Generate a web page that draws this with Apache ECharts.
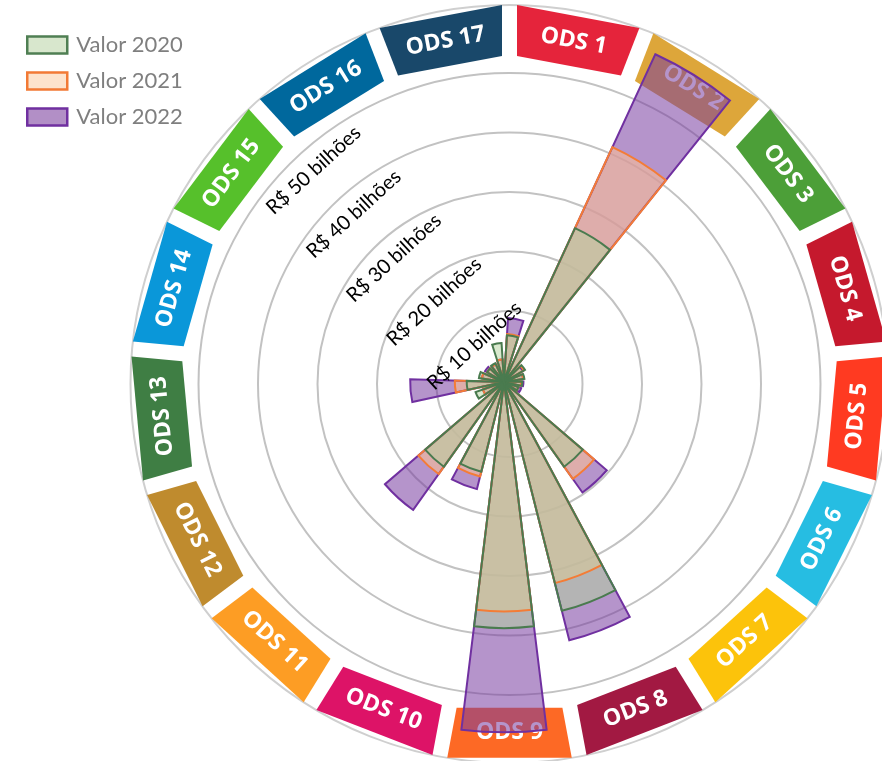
<!DOCTYPE html>
<html><head><meta charset="utf-8">
<script src="https://cdn.jsdelivr.net/npm/echarts@6/dist/echarts.min.js"></script>
<style>html,body{margin:0;padding:0;background:#fff}#c{width:882px;height:761px}</style>
</head><body><div id="c"></div>
<script>
// ---- data ----
const categories = ['ODS 1','ODS 2','ODS 3','ODS 4','ODS 5','ODS 6','ODS 7','ODS 8','ODS 9','ODS 10','ODS 11','ODS 12','ODS 13','ODS 14','ODS 15','ODS 16','ODS 17'];
const valor2020 = [5.6, 26.2, 1.8, 1.2, 0.8, 0.3, 15.2, 37.4, 39.1, 13.3, 15.2, 2.8, 4.0, 2.0, 1.0, 1.2, 4.3];
const valor2021 = [5.8, 41.2, 1.6, 1.0, 0.6, 0.3, 17.7, 32.6, 36.3, 14.1, 16.7, 1.5, 6.0, 1.5, 1.0, 1.0, 1.5];
const valor2022 = [8.5, 58.4, 1.4, 1.0, 1.0, 0.8, 20.5, 42.5, 56.6, 16.3, 24.1, 1.5, 13.5, 1.5, 1.4, 1.0, 1.5];
const ringTicks = [10, 20, 30, 40, 50];
const seriesNames = ['Valor 2020', 'Valor 2021', 'Valor 2022'];

// ---- styles / layout ----
const odsColors = ['#E5243B','#DDA63A','#4C9F38','#C5192D','#FF3A21','#26BDE2','#FCC30B','#A21942','#FD6925','#DD1367','#FD9D24','#BF8B2E','#3F7E44','#0A97D9','#56C02B','#00689D','#19486A'];
const fills = ['rgba(179,212,157,0.5)', 'rgba(250,190,150,0.6)', 'rgba(120,60,160,0.55)'];
const borders = ['#4a7b4f', '#f47c36', '#7030a0'];
const ringCenter = [509.5, 384];
const barCenter = [504, 382];
const r0px = 13.5, r50px = 311;
const pxPerUnit = (r50px - r0px) / 50;
const barMin = -r0px / pxPerUnit;
const barMax = 60;
const outerCircle = 379;
const ringMax = 50 * (outerCircle - r0px) / (r50px - r0px);

function fillSeries(name, values, k, z, pi) {
  return {
    type: 'bar', name: name, data: values, coordinateSystem: 'polar', polarIndex: pi,
    barWidth: '66%', z: z, clip: false, silent: true,
    itemStyle: { color: fills[k], borderWidth: 0 }
  };
}
function strokeSeries(name, values, k, z, pi) {
  return {
    type: 'bar', name: name + ' ', data: values, coordinateSystem: 'polar', polarIndex: pi,
    barWidth: '66%', z: z, clip: false, silent: true,
    itemStyle: { color: 'rgba(0,0,0,0)', borderColor: borders[k], borderWidth: 2 }
  };
}

function renderBlock(params, api) {
  const cx = params.coordSys.cx, cy = params.coordSys.cy;
  const idx = api.value(1);
  const pIn = api.coord([0, idx]);
  const pOut = api.coord([1, idx]);
  const rIn = Math.hypot(pIn[0] - cx, pIn[1] - cy);
  const rOut = Math.hypot(pOut[0] - cx, pOut[1] - cy);
  const a = Math.atan2(pOut[1] - cy, pOut[0] - cx);
  const half = Math.PI / categories.length;
  const g = 7.5;
  const pt = (r, ang) => [cx + r * Math.cos(ang), cy + r * Math.sin(ang)];
  const dOut = Math.asin(g / rOut), dIn = Math.asin(g / rIn);
  const pts = [pt(rOut, a - half + dOut), pt(rOut, a + half - dOut), pt(rIn, a + half - dIn), pt(rIn, a - half + dIn)];
  const mx = (pts[0][0] + pts[1][0] + pts[2][0] + pts[3][0]) / 4;
  const my = (pts[0][1] + pts[1][1] + pts[2][1] + pts[3][1]) / 4;
  const theta = (a * 180 / Math.PI + 90 + 720) % 360;
  const rot = (theta > 90 && theta < 250) ? 180 - theta : -theta;
  return {
    type: 'group',
    children: [
      { type: 'polygon', shape: { points: pts }, style: { fill: odsColors[idx] } },
      { type: 'text', x: mx, y: my, rotation: rot * Math.PI / 180,
        style: { text: categories[idx], fill: '#fff', font: 'bold 23px "Open Sans"', align: 'center', verticalAlign: 'middle' } }
    ]
  };
}

const barPolar = { center: barCenter, radius: pxPerUnit * (barMax - barMin) };
const barAngle = pi => ({ polarIndex: pi, type: 'category', data: categories, startAngle: 90, clockwise: true, show: false });
const barRadius = pi => ({ polarIndex: pi, type: 'value', min: barMin, max: barMax, startValue: barMin, show: false });

const chart = echarts.init(document.getElementById('c'), null, { renderer: 'canvas' });
chart.setOption({
  animation: false,
  backgroundColor: '#fff',
  legend: {
    data: [
      { name: seriesNames[0], itemStyle: { color: '#d8e7cd', borderColor: '#4f7f53', borderWidth: 2.5 } },
      { name: seriesNames[1], itemStyle: { color: '#fde3cc', borderColor: '#f27a35', borderWidth: 2.5 } },
      { name: seriesNames[2], itemStyle: { color: '#b28fc6', borderColor: '#7030a0', borderWidth: 2.5 } }
    ],
    orient: 'vertical', left: 21, top: 29, itemWidth: 40, itemHeight: 17, itemGap: 14, icon: 'rect',
    selectedMode: false,
    textStyle: { fontFamily: 'Lato', fontSize: 22, color: '#7f7f7f', padding: [0, 0, 0, 4] }
  },
  polar: [
    barPolar, barPolar, barPolar, barPolar, barPolar, barPolar,
    { center: ringCenter, radius: [r0px, outerCircle] },
    { center: ringCenter, radius: [328, outerCircle] },
    { center: ringCenter, radius: [r0px, r50px] }
  ],
  angleAxis: [
    barAngle(0), barAngle(1), barAngle(2), barAngle(3), barAngle(4), barAngle(5),
    { polarIndex: 6, type: 'value', min: 0, max: 360, startAngle: 90, show: false },
    { polarIndex: 7, type: 'category', data: categories, startAngle: 90, clockwise: true, show: false },
    { polarIndex: 8, type: 'value', min: 0, max: 360, startAngle: 132.5, show: false }
  ],
  radiusAxis: [
    barRadius(0), barRadius(1), barRadius(2), barRadius(3), barRadius(4), barRadius(5),
    { polarIndex: 6, type: 'value', min: 0, max: ringMax, interval: 10, z: 0,
      axisLine: { show: false }, axisTick: { show: false }, axisLabel: { show: false },
      splitLine: { show: true, lineStyle: { width: 2, color: ['rgba(0,0,0,0)', '#c2c2c2', '#c2c2c2', '#c2c2c2', '#c2c2c2', '#c2c2c2', 'rgba(0,0,0,0)', '#cfcfcf'] } } },
    { polarIndex: 7, type: 'value', min: 0, max: 1, show: false },
    { polarIndex: 8, type: 'value', min: 0, max: 50, interval: 10, z: 10,
      axisLine: { show: false }, axisTick: { show: false }, splitLine: { show: false },
      axisLabel: {
        show: true, rotate: 42.5, align: 'center', verticalAlign: 'top', margin: 0, padding: [11, 0, 0, 0],
        fontFamily: 'Lato', fontSize: 20, color: '#000',
        formatter: v => ringTicks.indexOf(v) >= 0 ? 'R$ ' + v + ' bilhões' : ''
      } }
  ],
  series: [
    { type: 'custom', coordinateSystem: 'polar', polarIndex: 7, z: 1, silent: true,
      encode: { radius: 0, angle: 1 }, data: categories.map(c => [1, c]), renderItem: renderBlock },
    fillSeries(seriesNames[2], valor2022, 2, 3, 0),
    fillSeries(seriesNames[1], valor2021, 1, 4, 1),
    fillSeries(seriesNames[0], valor2020, 0, 5, 2),
    strokeSeries(seriesNames[2], valor2022, 2, 6, 3),
    strokeSeries(seriesNames[1], valor2021, 1, 7, 4),
    strokeSeries(seriesNames[0], valor2020, 0, 8, 5)
  ]
});
</script></body></html>
